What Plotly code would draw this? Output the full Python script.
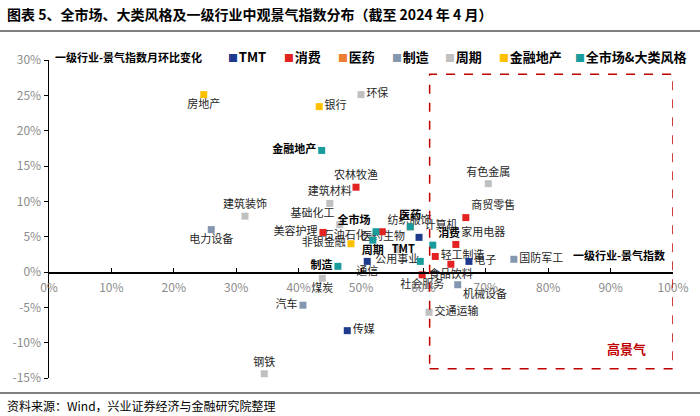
import plotly.graph_objects as go

# ---------------- data (x: 一级行业-景气指数, y: 月环比变化, both in %) ----------------
tmt_names = ["电子", "计算机", "通信", "传媒"]
tmt_x = [67.3, 59.3, 51.0, 47.8]
tmt_y = [1.5, 4.9, 1.5, -8.3]

cons_names = ["食品饮料", "家用电器", "纺织服饰", "商贸零售", "社会服务", "美容护理", "农林牧渔", "轻工制造"]
cons_x = [64.4, 65.2, 53.4, 66.8, 59.8, 43.9, 49.2, 61.9]
cons_y = [1.1, 3.9, 5.7, 7.7, -0.4, 5.6, 12.0, 2.2]

med_names = ["医药生物"]
med_x = [57.9]
med_y = [6.4]

mfg_names = ["电力设备", "机械设备", "国防军工", "汽车"]
mfg_x = [26.0, 65.5, 74.5, 40.7]
mfg_y = [6.0, -1.8, 1.8, -4.7]

cyc_names = ["有色金属", "钢铁", "煤炭", "基础化工", "石油石化", "建筑材料", "建筑装饰", "交通运输", "公用事业", "环保"]
cyc_x = [70.4, 34.5, 43.8, 46.6, 51.8, 45.0, 31.4, 60.9, 55.8, 50.0]
cyc_y = [12.5, -14.4, -0.9, 6.7, 5.0, 9.7, 7.9, -5.7, 3.2, 25.1]

fin_names = ["银行", "非银金融", "房地产"]
fin_x = [43.3, 48.4, 24.8]
fin_y = [23.4, 4.0, 25.1]

sty_names = ["全市场", "金融地产", "周期", "制造", "消费", "医药", "TMT"]
sty_x = [52.4, 43.7, 51.9, 46.3, 61.5, 57.9, 59.5]
sty_y = [5.7, 17.2, 4.5, 0.8, 3.8, 6.4, 1.5]

legend_labels = ["TMT", "消费", "医药", "制造", "周期", "金融地产", "全市场&大类风格"]
x_ticks = list(range(0, 101, 10))
y_ticks = list(range(-15, 31, 5))
high_zone = {"x0": 61.0, "x1": 100.0, "y0": -13.7, "y1": 28.0}

# ---------------- styles ----------------
colors = {
    "TMT": "#1F3A8C", "消费": "#E32322", "医药": "#ED7D31", "制造": "#8497B0",
    "周期": "#C0C0C0", "金融地产": "#FFC000", "全市场&大类风格": "#1A9C9C",
}
text_pos = {
    "电子": "middle right", "计算机": "top right", "通信": "bottom center", "传媒": "middle right",
    "食品饮料": "bottom center", "家用电器": "top right", "纺织服饰": "top right", "商贸零售": "top right",
    "社会服务": "bottom center", "美容护理": "middle left", "农林牧渔": "top center", "轻工制造": "middle right",
    "医药生物": "bottom left",
    "电力设备": "bottom center", "机械设备": "bottom right", "国防军工": "middle right", "汽车": "middle left",
    "有色金属": "top center", "钢铁": "top center", "煤炭": "bottom center", "基础化工": "top left",
    "石油石化": "middle left", "建筑材料": "top center", "建筑装饰": "top center", "交通运输": "middle right",
    "公用事业": "bottom center", "环保": "middle right",
    "银行": "middle right", "非银金融": "middle left", "房地产": "bottom center",
}
sty_pos = {
    "全市场": "top left", "金融地产": "middle left", "周期": "bottom center", "制造": "middle left",
    "消费": "top right", "医药": "top center", "TMT": "top left",
}

FONT = "Noto Sans CJK SC"
fig = go.Figure()

groups = [
    ("周期", cyc_names, cyc_x, cyc_y),
    ("制造", mfg_names, mfg_x, mfg_y),
    ("金融地产", fin_names, fin_x, fin_y),
    ("医药", med_names, med_x, med_y),
    ("消费", cons_names, cons_x, cons_y),
    ("TMT", tmt_names, tmt_x, tmt_y),
]
for cat, names, xs, ys in groups:
    fig.add_trace(go.Scatter(
        x=xs, y=ys, mode="markers+text", text=names,
        textposition=[text_pos[n] for n in names],
        textfont=dict(family=FONT, size=11, color="#262626"),
        marker=dict(symbol="square", size=7, color=colors[cat]),
        cliponaxis=False, showlegend=False, name=cat,
    ))

fig.add_trace(go.Scatter(
    x=sty_x, y=sty_y, mode="markers+text",
    text=["<b>%s</b>" % n for n in sty_names],
    textposition=[sty_pos[n] for n in sty_names],
    textfont=dict(family=FONT, size=11, color="#000000"),
    marker=dict(symbol="square", size=7, color=colors["全市场&大类风格"]),
    cliponaxis=False, showlegend=False, name="全市场&大类风格",
))

# high-prosperity zone
fig.add_shape(type="rect", xref="x", yref="y", **high_zone,
              line=dict(color="#C00000", width=1.5, dash="dash"), fillcolor="rgba(0,0,0,0)")
fig.add_annotation(x=92.5, y=-10.8, xref="x", yref="y", text="<b>高景气</b>", showarrow=False,
                   font=dict(family=FONT, size=13, color="#C00000"))

L, R, T, B = 49, 27, 60, 38
W, H = 700, 416
pw, ph = W - L - R, H - T - B


def px(xp):
    return (xp - L) / pw


def py(yp):
    return (H - B - yp) / ph


# manual legend (square centres in px)
leg_centres = [231, 287, 341, 395, 448, 502, 578]
for lab, cx in zip(legend_labels, leg_centres):
    fig.add_annotation(
        x=px(cx - 5), y=py(56), xref="paper", yref="paper", xanchor="left", yanchor="middle",
        text="<span style='font-size:10px;color:%s'>■</span>&#8202;<b>%s</b>" % (colors[lab], lab),
        showarrow=False, font=dict(family=FONT, size=13, color="#000000"),
    )

# axis titles
fig.add_annotation(x=px(53), y=py(57), xref="paper", yref="paper", xanchor="left", yanchor="middle",
                   text="<b>一级行业-景气指数月环比变化</b>", showarrow=False,
                   font=dict(family=FONT, size=11, color="#000000"))
fig.add_annotation(x=px(667), y=py(255), xref="paper", yref="paper", xanchor="right", yanchor="middle",
                   text="<b>一级行业-景气指数</b>", showarrow=False,
                   font=dict(family=FONT, size=11, color="#000000"))

# title, source
fig.add_annotation(x=px(5), y=py(14), xref="paper", yref="paper", xanchor="left", yanchor="middle",
                   text="<b>图表 5、全市场、大类风格及一级行业中观景气指数分布（截至 2024 年 4 月）</b>",
                   showarrow=False, font=dict(family=FONT, size=14, color="#000000"))
fig.add_annotation(x=px(5), y=py(405), xref="paper", yref="paper", xanchor="left", yanchor="middle",
                   text="资料来源：Wind，兴业证券经济与金融研究院整理",
                   showarrow=False, font=dict(family=FONT, size=12, color="#000000"))
fig.add_shape(type="line", xref="paper", yref="paper", x0=px(0), x1=px(700), y0=py(31), y1=py(31),
              line=dict(color="#7F7F7F", width=2))
fig.add_shape(type="line", xref="paper", yref="paper", x0=px(0), x1=px(700), y0=py(393), y1=py(393),
              line=dict(color="#7F7F7F", width=2))

fig.update_layout(
    width=W, height=H, margin=dict(l=L, r=R, t=T, b=B),
    paper_bgcolor="white", plot_bgcolor="white",
    font=dict(family=FONT),
    xaxis=dict(range=[0, 100], tickvals=x_ticks, ticktext=["%d%%" % v for v in x_ticks],
               anchor="free", position=1 / 3, showgrid=False, zeroline=False,
               showline=True, linecolor="#000000", linewidth=1.5,
               ticks="inside", ticklen=4, tickcolor="#000000", ticklabelstandoff=4,
               tickfont=dict(family=FONT, size=12, color="#8C8C8C")),
    yaxis=dict(range=[-15, 30], tickvals=y_ticks, ticktext=["%d%%" % v for v in y_ticks],
               showgrid=False, zeroline=False, showline=True, linecolor="#000000", linewidth=1.5,
               ticks="outside", ticklen=4, tickcolor="#000000",
               tickfont=dict(family=FONT, size=12, color="#8C8C8C")),
)

fig.write_html("out.html", config={"displayModeBar": False, "staticPlot": True},
               post_script="document.body.style.margin='0px';")
